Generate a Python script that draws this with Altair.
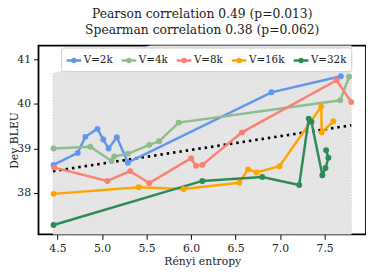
import altair as alt
import pandas as pd

series = ["V=2k", "V=4k", "V=8k", "V=16k", "V=32k"]
colors = ["#6495ed", "#8fbc8f", "#fa8072", "#ffa500", "#2e8b57"]

x_2k = [4.456, 4.728, 4.813, 4.949, 5.015, 5.074, 5.167, 5.291, 6.903, 7.683]
y_2k = [38.63, 38.90, 39.26, 39.44, 39.20, 39.00, 39.25, 38.68, 40.26, 40.62]
x_4k = [4.456, 4.869, 5.107, 5.137, 5.291, 5.531, 5.641, 5.862, 7.675, 7.775]
y_4k = [39.00, 39.04, 38.72, 38.82, 38.88, 39.08, 39.16, 39.58, 40.08, 40.61]
x_8k = [4.464, 5.060, 5.317, 5.531, 6.001, 6.056, 6.127, 6.572, 7.635, 7.800]
y_8k = [38.57, 38.27, 38.49, 38.22, 38.78, 38.61, 38.63, 39.36, 40.53, 40.04]
x_16k = [4.456, 5.413, 5.917, 6.542, 6.641, 6.737, 6.994, 7.462, 7.469, 7.598]
y_16k = [37.98, 38.13, 38.09, 38.23, 38.53, 38.46, 38.60, 39.94, 39.36, 39.61]
x_32k = [4.456, 6.127, 6.800, 7.215, 7.322, 7.352, 7.475, 7.510, 7.543, 7.517]
y_32k = [37.28, 38.27, 38.36, 38.18, 39.67, 39.60, 38.40, 38.56, 38.79, 38.96]

fit_x = [4.45, 7.80]
fit_y = [38.49, 39.52]
band_x = [4.45, 7.80]
band_lo = [36.0, 36.5]
band_hi = [40.68, 42.62]

x_ticks = [4.5, 5.0, 5.5, 6.0, 6.5, 7.0, 7.5]
y_ticks = [38, 39, 40, 41]
title_lines = ["Pearson correlation 0.49 (p=0.013)", "Spearman correlation 0.38 (p=0.062)"]

rows = []
for name, xs_, ys_ in zip(series, [x_2k, x_4k, x_8k, x_16k, x_32k], [y_2k, y_4k, y_8k, y_16k, y_32k]):
    for i, (a, b) in enumerate(zip(xs_, ys_)):
        rows.append({"V": name, "x": a, "y": b, "i": i})
df = pd.DataFrame(rows)
fit_df = pd.DataFrame({"x": fit_x, "y": fit_y})
band_df = pd.DataFrame({"x": band_x, "lo": band_lo, "hi": band_hi})

FONT = "DejaVu Serif"
xs = alt.Scale(domain=[4.287, 7.965], nice=False, zero=False)
ys = alt.Scale(domain=[37.07, 41.31], nice=False, zero=False)
axis_style = dict(grid=False, domain=False, tickColor="black", tickSize=5, labelPadding=3,
                  labelFont=FONT, labelFontSize=11, labelColor="#222",
                  titleFont=FONT, titleFontSize=11, titleFontWeight="normal", titleColor="#222")
xax = alt.Axis(values=x_ticks, format=".1f", title="Rényi entropy",
               titleY=22, titleBaseline="top", **axis_style)
yax = alt.Axis(values=y_ticks, format="d", title="Dev BLEU", titleX=-19, **axis_style)

band = alt.Chart(band_df).mark_area(color="#e5e5e5", clip=True, stroke="#cccccc",
                                    strokeWidth=1, strokeDash=[1, 2]).encode(
    x=alt.X("x:Q", scale=xs, axis=xax),
    y=alt.Y("lo:Q", scale=ys, axis=yax),
    y2="hi:Q",
)

fit = alt.Chart(fit_df).mark_line(color="black", strokeWidth=2.7, strokeDash=[2.5, 4]).encode(
    x=alt.X("x:Q", scale=xs),
    y=alt.Y("y:Q", scale=ys),
)

path = "M-1,0L1,0M0.2,0A0.2,0.2,0,1,1,-0.2,0A0.2,0.2,0,1,1,0.2,0Z"
cscale = alt.Scale(domain=series, range=colors)
color = alt.Color("V:N", scale=cscale, sort=series,
                  legend=alt.Legend(title=None, orient="none", legendX=23, legendY=2,
                                    direction="horizontal", columns=5,
                                    symbolType=path, symbolSize=225, symbolStrokeWidth=2.5,
                                    labelFont=FONT, labelFontSize=10.5, labelColor="#222",
                                    labelOffset=1, columnPadding=3,
                                    fillColor="white", strokeColor="#cccccc", padding=4,
                                    cornerRadius=3))

lines = alt.Chart(df).mark_line(strokeWidth=2.5).encode(
    x=alt.X("x:Q", scale=xs),
    y=alt.Y("y:Q", scale=ys),
    color=color,
    order="i:Q",
)
pts = alt.Chart(df).mark_circle(size=36, opacity=1).encode(
    x=alt.X("x:Q", scale=xs),
    y=alt.Y("y:Q", scale=ys),
    color=alt.Color("V:N", scale=cscale, sort=series, legend=None),
)

chart = alt.layer(band, fit, lines, pts).properties(
    width=333, height=192,
    title=alt.TitleParams(text=title_lines, font=FONT, fontSize=12.5, fontWeight="normal",
                          anchor="middle", offset=9, lineHeight=17, color="#222"),
    autosize=alt.AutoSizeParams(type="none"),
    padding={"left": 31, "top": 36, "right": 0, "bottom": 32},
).configure_view(stroke="black", strokeWidth=1.8)

chart.save("out.html", embed_options={"renderer": "svg", "actions": False})
